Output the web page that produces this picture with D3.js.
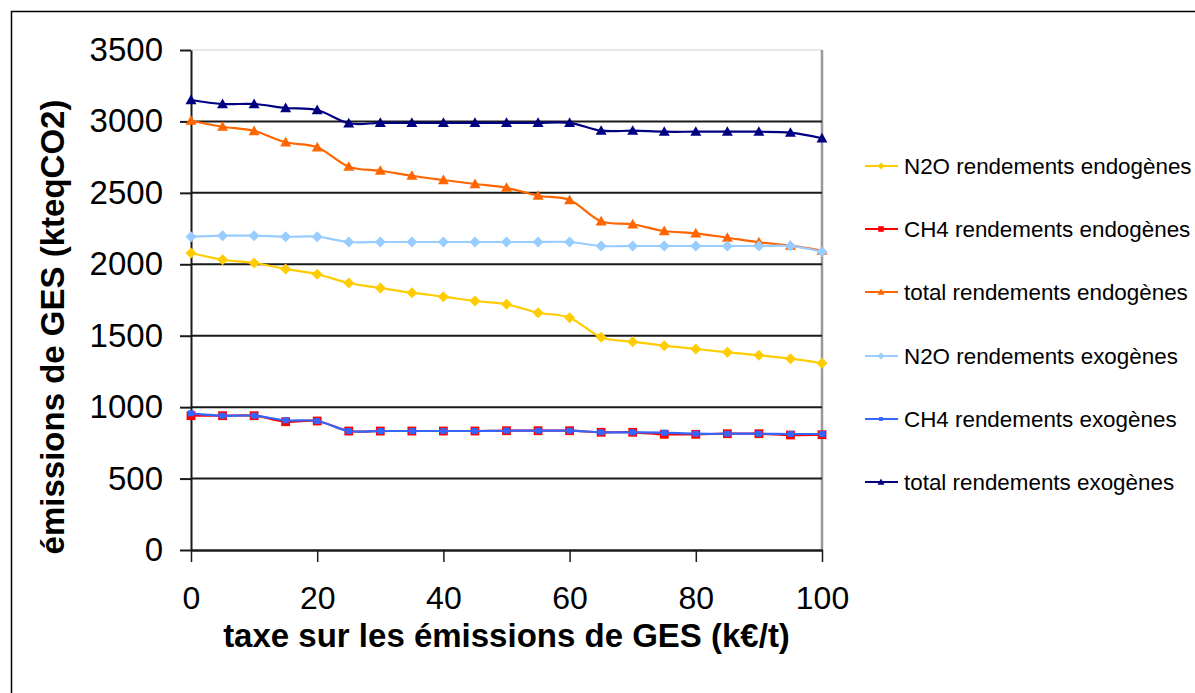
<!DOCTYPE html>
<html lang="fr">
<head>
    <meta charset="UTF-8">
    <title>Émissions de GES</title>
    <script src="https://cdn.jsdelivr.net/npm/d3@7"></script>
    <style>
        body, html {
            margin: 0;
            background: #fff;
        }
        svg {
            display: block;
            font-family: "Liberation Sans", Arial, sans-serif;
        }
    </style>
</head>
<body>
<svg width="1195" height="693"></svg>
<script>
    // data
    const tax = [0, 5, 10, 15, 20, 25, 30, 35, 40, 45, 50, 55, 60, 65, 70, 75, 80, 85, 90, 95, 100];
    const n2oEndo = [2079, 2032, 2009, 1967, 1930, 1869, 1834, 1801, 1773, 1743, 1720, 1661, 1626, 1489, 1458, 1430, 1407, 1384, 1363, 1339, 1307];
    const ch4Endo = [940, 940, 940, 898, 903, 833, 833, 833, 833, 833, 835, 835, 835, 824, 824, 810, 810, 814, 814, 805, 807];
    const totalEndo = [3005, 2963, 2933, 2854, 2819, 2683, 2655, 2620, 2590, 2562, 2536, 2480, 2450, 2301, 2280, 2233, 2217, 2186, 2154, 2130, 2095];
    const n2oExo = [2193, 2200, 2200, 2193, 2193, 2156, 2156, 2156, 2156, 2156, 2156, 2156, 2156, 2128, 2128, 2128, 2128, 2128, 2128, 2128, 2088];
    const ch4Exo = [957, 940, 940, 908, 903, 833, 833, 833, 833, 833, 835, 835, 835, 824, 824, 821, 814, 814, 814, 812, 812];
    const totalExo = [3150, 3122, 3122, 3094, 3080, 2987, 2990, 2990, 2990, 2990, 2990, 2990, 2990, 2935, 2935, 2928, 2928, 2928, 2928, 2921, 2882];

    const yTicks = [0, 500, 1000, 1500, 2000, 2500, 3000, 3500];
    const xTicks = [0, 20, 40, 60, 80, 100];

    const series = [
        {name: "N2O rendements endogènes", values: n2oEndo, color: "#FFCC00", symbol: "diamond"},
        {name: "CH4 rendements endogènes", values: ch4Endo, color: "#FF0000", symbol: "square"},
        {name: "total rendements endogènes", values: totalEndo, color: "#FF6600", symbol: "triangle"},
        {name: "N2O rendements exogènes", values: n2oExo, color: "#99CCFF", symbol: "diamond"},
        {name: "CH4 rendements exogènes", values: ch4Exo, color: "#3366FF", symbol: "smallsquare"},
        {name: "total rendements exogènes", values: totalExo, color: "#000080", symbol: "triangle"}
    ];

    const svg = d3.select("svg");
    const plot = {left: 191, right: 822, top: 50, bottom: 550};

    const x = d3.scaleLinear().domain([0, 100]).range([plot.left, plot.right]);
    const y = d3.scaleLinear().domain([0, 3500]).range([plot.bottom, plot.top]);

    // outer chart border
    svg.append("rect")
        .attr("x", 11.5).attr("y", 11.5)
        .attr("width", 1300).attr("height", 800)
        .attr("fill", "#fff")
        .attr("stroke", "#000")
        .attr("stroke-width", 1.5);

    // plot area border (grey)
    svg.append("line")
        .attr("x1", plot.left).attr("x2", plot.right).attr("y1", plot.top).attr("y2", plot.top)
        .attr("stroke", "#d0d0d0").attr("stroke-width", 1);
    svg.append("line")
        .attr("x1", plot.right).attr("x2", plot.right).attr("y1", plot.top).attr("y2", plot.bottom)
        .attr("stroke", "#999").attr("stroke-width", 2.5);

    // gridlines
    svg.append("g")
        .selectAll("line")
        .data(yTicks.filter(d => d > 0 && d < 3500))
        .join("line")
        .attr("x1", plot.left).attr("x2", plot.right)
        .attr("y1", d => y(d)).attr("y2", d => y(d))
        .attr("stroke", "#1a1a1a").attr("stroke-width", 2);

    // y axis
    const yAxis = svg.append("g")
        .attr("transform", `translate(${plot.left},0)`)
        .call(d3.axisLeft(y).tickValues(yTicks).tickFormat(d3.format("d"))
            .tickSize(11).tickPadding(17).tickSizeOuter(0));
    yAxis.select(".domain").attr("stroke", "#1a1a1a").attr("stroke-width", 2);
    yAxis.selectAll(".tick line").attr("stroke", "#1a1a1a").attr("stroke-width", 2);
    yAxis.selectAll(".tick text")
        .attr("font-family", "Liberation Sans, Arial, sans-serif")
        .attr("font-size", 33)
        .attr("fill", "#000");

    // x axis
    const xAxis = svg.append("g")
        .attr("transform", `translate(0,${plot.bottom})`)
        .call(d3.axisBottom(x).tickValues(xTicks).tickSize(12).tickPadding(24).tickSizeOuter(0));
    xAxis.select(".domain").attr("stroke", "#1a1a1a").attr("stroke-width", 2.5);
    xAxis.selectAll(".tick line").attr("stroke", "#1a1a1a").attr("stroke-width", 1.5);
    xAxis.selectAll(".tick text")
        .attr("font-family", "Liberation Sans, Arial, sans-serif")
        .attr("font-size", 32)
        .attr("fill", "#000");

    // axis titles
    svg.append("text")
        .attr("x", (plot.left + plot.right) / 2)
        .attr("y", 647)
        .attr("text-anchor", "middle")
        .attr("font-weight", "bold")
        .attr("font-size", 33)
        .text("taxe sur les émissions de GES (k€/t)");

    svg.append("text")
        .attr("transform", "translate(64,327) rotate(-90)")
        .attr("text-anchor", "middle")
        .attr("font-weight", "bold")
        .attr("font-size", 33)
        .text("émissions de GES (kteqCO2)");

    // marker shapes
    function drawMarker(g, symbol, color, s) {
        if (symbol === "diamond") {
            g.append("path")
                .attr("d", `M0,${-s}L${s},0L0,${s}L${-s},0Z`)
                .attr("fill", color);
        } else if (symbol === "square") {
            g.append("rect")
                .attr("x", -s * 0.8).attr("y", -s * 0.8)
                .attr("width", s * 1.6).attr("height", s * 1.6)
                .attr("fill", color);
        } else if (symbol === "smallsquare") {
            g.append("rect")
                .attr("x", -s * 0.55).attr("y", -s * 0.55)
                .attr("width", s * 1.1).attr("height", s * 1.1)
                .attr("fill", color);
        } else {
            g.append("path")
                .attr("d", `M0,${-s}L${s},${s * 0.75}L${-s},${s * 0.75}Z`)
                .attr("fill", color);
        }
    }

    const line = d3.line()
        .x((d, i) => x(tax[i]))
        .y(d => y(d))
        .curve(d3.curveCatmullRom.alpha(0));

    series.forEach(s => {
        svg.append("path")
            .datum(s.values)
            .attr("d", line)
            .attr("fill", "none")
            .attr("stroke", s.color)
            .attr("stroke-width", 2.2);

        svg.append("g")
            .selectAll("g")
            .data(s.values)
            .join("g")
            .attr("transform", (d, i) => `translate(${x(tax[i])},${y(d)})`)
            .each(function() { drawMarker(d3.select(this), s.symbol, s.color, 5.5); });
    });

    // legend
    const legendY = [166, 229, 292, 356, 419, 482];
    const legend = svg.append("g")
        .selectAll("g")
        .data(series)
        .join("g")
        .attr("transform", (d, i) => `translate(865,${legendY[i]})`);

    legend.append("line")
        .attr("x1", 0).attr("x2", 33)
        .attr("stroke", d => d.color)
        .attr("stroke-width", 2);

    legend.each(function(d) {
        const g = d3.select(this).append("g").attr("transform", "translate(16,0)");
        drawMarker(g, d.symbol, d.color, 3.5);
    });

    legend.append("text")
        .attr("x", 39)
        .attr("dy", "0.35em")
        .attr("font-size", 22.4)
        .attr("fill", "#000")
        .text(d => d.name);
</script>
</body>
</html>
